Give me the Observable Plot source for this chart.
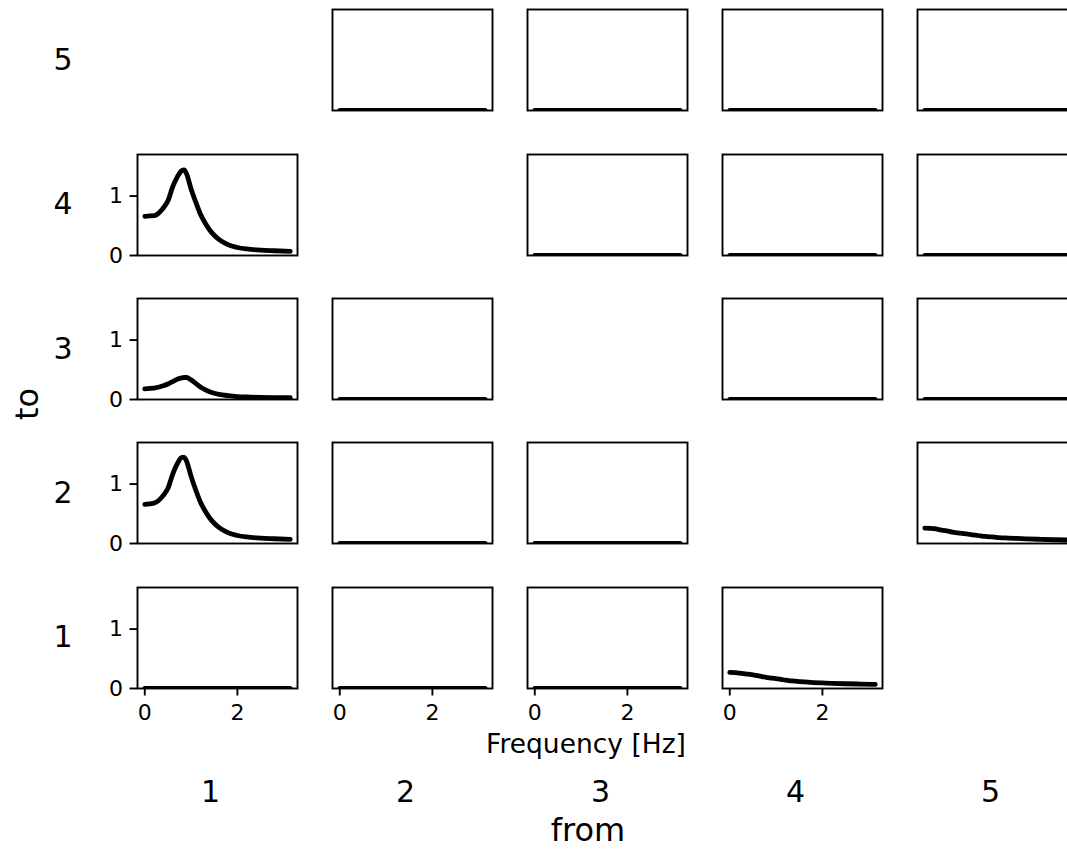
<!DOCTYPE html>
<html>
<head>
<meta charset="utf-8">
<script src="https://cdn.jsdelivr.net/npm/d3@7"></script>
<script src="https://cdn.jsdelivr.net/npm/@observablehq/plot@0.6"></script>
<style>
html, body { margin: 0; padding: 0; background: #fff; overflow: hidden; }
#fig { position: relative; width: 1067px; height: 851px; overflow: hidden; background: #fff;
       font-family: "DejaVu Sans", sans-serif; color: #000; }
#fig svg text { font-size: 22px !important; font-family: "DejaVu Sans", sans-serif !important; fill: #000; }
.lbl { position: absolute; line-height: 1; white-space: nowrap; transform: translate(-50%, -50%); }
.rot { transform: translate(-50%, -50%) rotate(-90deg); }
</style>
</head>
<body>
<div id="fig"></div>
<script>
// ---------------- data ----------------
const fromOrder = [1, 2, 3, 4, 5];          // columns, left to right
const toOrder = [5, 4, 3, 2, 1];            // rows, top to bottom
const emptyPairs = [[1, 5], [2, 4], [3, 3], [4, 2], [5, 1]]; // [from, to] cells left blank

const xTicks = [0, 2];
const yTicks = [0, 1];
const xDomain = [-0.157, 3.297];
const yDomain = [0, 1.70];

// frequency grid (Hz) for the non-zero spectra
const freq = [0, 0.2, 0.4, 0.5, 0.6, 0.7, 0.8, 0.85, 0.9, 1.0, 1.1, 1.2, 1.3, 1.4, 1.5, 1.6, 1.8, 2.0, 2.2, 2.5, 2.8, 3.14];
const from1to4 = [0.66, 0.67, 0.80, 0.92, 1.15, 1.32, 1.43, 1.44, 1.38, 1.12, 0.90, 0.70, 0.55, 0.43, 0.34, 0.27, 0.18, 0.135, 0.11, 0.09, 0.08, 0.07];
const from1to3 = [0.18, 0.19, 0.23, 0.26, 0.30, 0.34, 0.365, 0.37, 0.37, 0.33, 0.27, 0.21, 0.165, 0.13, 0.105, 0.087, 0.065, 0.05, 0.042, 0.035, 0.032, 0.03];
const from1to2 = [0.66, 0.68, 0.81, 0.93, 1.16, 1.34, 1.45, 1.45, 1.39, 1.13, 0.90, 0.70, 0.55, 0.43, 0.34, 0.27, 0.18, 0.135, 0.11, 0.09, 0.08, 0.07];
const from4to1 = [0.27, 0.26, 0.24, 0.23, 0.215, 0.20, 0.185, 0.18, 0.175, 0.165, 0.155, 0.14, 0.13, 0.125, 0.117, 0.11, 0.10, 0.093, 0.087, 0.08, 0.075, 0.07];
const from5to2 = [0.26, 0.25, 0.22, 0.21, 0.19, 0.18, 0.17, 0.165, 0.16, 0.15, 0.14, 0.128, 0.12, 0.113, 0.107, 0.10, 0.092, 0.085, 0.078, 0.07, 0.063, 0.058];

// all other pairs are flat at zero over the same range
const zeroFreq = [0, 3.14];
const zeroValues = [0, 0];

const seriesList = [
  {from: 1, to: 4, values: from1to4},
  {from: 1, to: 3, values: from1to3},
  {from: 1, to: 2, values: from1to2},
  {from: 4, to: 1, values: from4to1},
  {from: 5, to: 2, values: from5to2}
];

// ---------------- layout ----------------
const P = {w: 160, h: 101, x0: 136.5, dx: 195, y0: 9.3, dy: 144.35};
const fig = document.getElementById("fig");

function isEmpty(from, to) {
  return emptyPairs.some(([f, t]) => f === from && t === to);
}

toOrder.forEach((to, r) => {
  fromOrder.forEach((from, c) => {
    if (isEmpty(from, to)) return;
    const s = seriesList.find(d => d.from === from && d.to === to);
    const data = s
      ? freq.map((f, i) => ({f, v: s.values[i]}))
      : zeroFreq.map((f, i) => ({f, v: zeroValues[i]}));
    const showX = to === toOrder[toOrder.length - 1];
    const showY = from === fromOrder[0];
    const mL = showY ? 52 : 4, mR = 4, mT = 4, mB = showX ? 44 : 4;
    const marks = [
      Plot.line(data, {x: "f", y: "v", stroke: "#000", strokeWidth: 4.8,
        strokeLinecap: "round", strokeLinejoin: "round", curve: "monotone-x", clip: true}),
      Plot.frame({stroke: "#000", strokeWidth: 1.9})
    ];
    if (showX) marks.push(Plot.axisX({ticks: xTicks, tickSize: 7.5, tickPadding: 8,
      strokeWidth: 1.9, fontSize: 22, label: null, tickFormat: d => String(d)}));
    if (showY) marks.push(Plot.axisY({ticks: yTicks, tickSize: 7.5, tickPadding: 7,
      strokeWidth: 1.9, fontSize: 22, label: null, tickFormat: d => String(d)}));
    const svg = Plot.plot({
      width: P.w + mL + mR,
      height: P.h + mT + mB,
      marginLeft: mL, marginRight: mR, marginTop: mT, marginBottom: mB,
      x: {domain: xDomain, axis: null},
      y: {domain: yDomain, axis: null},
      style: {background: "transparent", overflow: "visible", fontFamily: "DejaVu Sans, sans-serif", fontSize: "22px", color: "#000"},
      marks
    });
    svg.style.position = "absolute";
    svg.style.left = (P.x0 + c * P.dx - mL) + "px";
    svg.style.top = (P.y0 + r * P.dy - mT) + "px";
    svg.style.maxWidth = "none";
    fig.appendChild(svg);
  });
});

// ---------------- text labels ----------------
function label(text, x, y, size, cls) {
  const d = document.createElement("div");
  d.className = "lbl" + (cls ? " " + cls : "");
  d.textContent = text;
  d.style.left = x + "px";
  d.style.top = y + "px";
  d.style.fontSize = size + "px";
  fig.appendChild(d);
}
toOrder.forEach((to, r) => label(String(to), 63, P.y0 + r * P.dy + P.h / 2, 30));
fromOrder.forEach((from, c) => label(String(from), P.x0 + c * P.dx + P.w / 2 - 6, 792, 30));
label("Frequency [Hz]", 586, 744, 26.5);
label("from", 588, 830, 32);
label("to", 27, 404, 32, "rot");
</script>
</body>
</html>
